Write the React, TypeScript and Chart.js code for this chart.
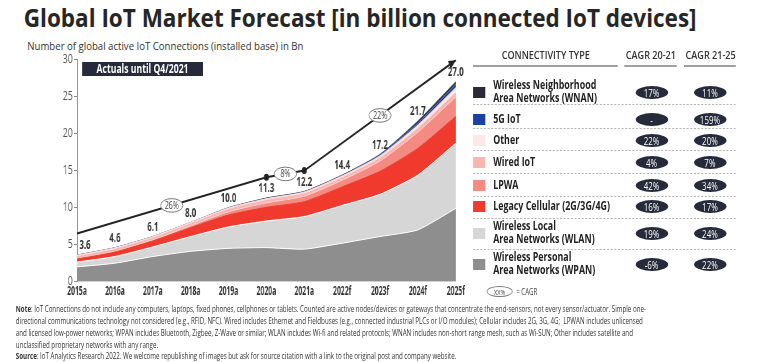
import React, { useEffect, useRef } from "react";
import { Chart, registerables } from "chart.js";
Chart.register(...registerables);

const FONT = "'Open Sans', 'DejaVu Sans', sans-serif";
const SX = 0.72; // horizontal squeeze of the reference picture

// ---- data ----
const years = ["2015a", "2016a", "2017a", "2018a", "2019a", "2020a", "2021a", "2022f", "2023f", "2024f", "2025f"];
const totals = [3.6, 4.6, 6.1, 8.0, 10.0, 11.3, 12.2, 14.4, 17.2, 21.7, 27.0];
const wpan = [2.0, 2.5, 3.4, 4.1, 4.5, 4.6, 4.4, 5.2, 6.1, 7.0, 9.9];
const wlan = [0.65, 0.9, 1.3, 2.0, 2.9, 3.6, 4.4, 5.1, 5.7, 7.4, 8.8];
const legacyCellular = [0.4, 0.6, 0.8, 1.2, 1.6, 1.85, 2.0, 2.5, 3.1, 3.6, 3.6];
const lpwa = [0.05, 0.1, 0.15, 0.25, 0.45, 0.6, 0.75, 0.9, 1.4, 2.2, 2.65];
const wiredIoT = [0.4, 0.4, 0.38, 0.38, 0.42, 0.45, 0.45, 0.45, 0.5, 0.6, 0.65];
const otherConn = [0.07, 0.07, 0.05, 0.05, 0.08, 0.1, 0.11, 0.13, 0.18, 0.35, 0.6];
const fiveG = [0, 0, 0, 0, 0, 0, 0.01, 0.04, 0.12, 0.25, 0.45];
const wnan = [0.03, 0.03, 0.02, 0.02, 0.05, 0.1, 0.08, 0.08, 0.1, 0.3, 0.35];
const trend = [6.5, null, null, null, null, 14.1, 15.0, null, null, null, 29.9];
const cagrMarks: [number, number, string][] = [[0, 5, "26%"], [5, 6, "8%"], [6, 10, "22%"]];
const yTicks = [0, 5, 10, 15, 20, 25, 30];

const legendNames = [
  ["Wireless Neighborhood", "Area Networks (WNAN)"],
  ["5G IoT"],
  ["Other"],
  ["Wired IoT"],
  ["LPWA"],
  ["Legacy Cellular (2G/3G/4G)"],
  ["Wireless Local", "Area Networks (WLAN)"],
  ["Wireless Personal", "Area Networks (WPAN)"],
];
const cagr2021 = ["17%", "-", "22%", "4%", "42%", "16%", "19%", "-6%"];
const cagr2125 = ["11%", "159%", "20%", "7%", "34%", "17%", "24%", "22%"];
const legendColors = ["#2b2b38", "#1c3fa3", "#fbe8e8", "#f9b6b1", "#f48b82", "#ef3a2d", "#d6d6d6", "#8e8e8e"];

const noteLines = [
  ["Note", ": IoT Connections do not include any computers, laptops, fixed phones, cellphones or tablets. Counted are active nodes/devices or gateways that concentrate the end-sensors, not every sensor/actuator. Simple one-"],
  ["", "directional communications technology not considered (e.g., RFID, NFC). Wired includes Ethernet and Fieldbuses (e.g., connected industrial PLCs or I/O modules); Cellular includes 2G, 3G, 4G;  LPWAN includes unlicensed"],
  ["", "and licensed low-power networks; WPAN includes Bluetooth, Zigbee, Z-Wave or similar; WLAN includes Wi-fi and related protocols; WNAN includes non-short range mesh, such as Wi-SUN; Other includes satellite and"],
  ["", "unclassified proprietary networks with any range."],
  ["Source", ": IoT Analytics Research 2022. We welcome republishing of images but ask for source citation with a link to the original post and company website."],
];

// layout (design px)
const rowCenters = [92, 119, 140.5, 162.5, 185, 206.5, 233, 264];
const dashYs = [103.5, 127.5, 149.5, 172.5, 195.5, 218, 249];

const overlayPlugin = {
  id: "overlay",
  afterDatasetsDraw(chart: any) {
    const ctx = chart.ctx;
    const xs = chart.scales.x;
    const ys = chart.scales.y;
    ctx.save();
    ctx.textAlign = "center";
    ctx.textBaseline = "middle";
    // x category labels (narrow)
    ctx.font = `bold 11.5px ${FONT}`;
    ctx.fillStyle = "#333";
    years.forEach((lab, i) => {
      const px = xs.getPixelForValue(i);
      ctx.save();
      ctx.translate(px, ys.bottom + 10.5);
      ctx.scale(0.82, 1);
      ctx.fillText(lab, 0, 0);
      ctx.restore();
    });
    // value labels
    totals.forEach((v, i) => {
      let px = xs.getPixelForValue(i);
      if (i === 0) px += 11;
      ctx.save();
      ctx.translate(px, ys.getPixelForValue(v) - 9);
      ctx.scale(0.95, 1);
      ctx.fillText(v.toFixed(1), 0, 0);
      ctx.restore();
    });
    // arrow head
    const meta = chart.getDatasetMeta(8);
    const last = meta.data[10];
    const prev = meta.data[6];
    const ang = Math.atan2(last.y - prev.y, last.x - prev.x);
    const L = 10, W = 4.5;
    ctx.fillStyle = "#222";
    ctx.beginPath();
    ctx.moveTo(last.x, last.y);
    ctx.lineTo(last.x - L * Math.cos(ang) + W * Math.sin(ang), last.y - L * Math.sin(ang) - W * Math.cos(ang));
    ctx.lineTo(last.x - L * Math.cos(ang) - W * Math.sin(ang), last.y - L * Math.sin(ang) + W * Math.cos(ang));
    ctx.closePath();
    ctx.fill();
    // CAGR ellipses
    cagrMarks.forEach(([a, b, t]) => {
      const pa = meta.data[a];
      const pb = meta.data[b];
      const mx = (pa.x + pb.x) / 2;
      const my = (pa.y + pb.y) / 2;
      ctx.beginPath();
      ctx.ellipse(mx, my, 15.5, 6.8, 0, 0, Math.PI * 2);
      ctx.fillStyle = "#fff";
      ctx.fill();
      ctx.lineWidth = 1;
      ctx.strokeStyle = "#777";
      ctx.stroke();
      ctx.fillStyle = "#444";
      ctx.font = `10px ${FONT}`;
      ctx.fillText(t, mx, my + 0.5);
    });
    ctx.restore();
  },
};

function ChartCanvas() {
  const ref = useRef<HTMLCanvasElement | null>(null);
  useEffect(() => {
    if (!ref.current) return;
    const series = [
      { label: "WPAN", data: wpan, color: "#8e8e8e", border: "#ffffff" },
      { label: "WLAN", data: wlan, color: "#d6d6d6", border: "#ffffff" },
      { label: "Legacy Cellular", data: legacyCellular, color: "#ef3a2d", border: "#ef3a2d" },
      { label: "LPWA", data: lpwa, color: "#f48b82", border: "#fbd0cc" },
      { label: "Wired IoT", data: wiredIoT, color: "#f9b6b1", border: "#fde0de" },
      { label: "Other", data: otherConn, color: "#fbe8e8", border: "#f4d8d8" },
      { label: "5G IoT", data: fiveG, color: "#1c3fa3", border: "#5a74c0" },
      { label: "WNAN", data: wnan, color: "#2b2b38", border: "#55556a" },
    ];
    const datasets: any[] = series.map((s, i) => ({
      label: s.label,
      data: s.data,
      backgroundColor: s.color,
      borderColor: s.border,
      borderWidth: 1,
      fill: i === 0 ? "origin" : "-1",
      pointRadius: 0,
      tension: 0.2,
      yAxisID: "y",
    }));
    datasets.push({
      label: "trend",
      data: trend,
      borderColor: "#222",
      backgroundColor: "#222",
      borderWidth: 2,
      fill: false,
      spanGaps: true,
      tension: 0,
      pointRadius: [0, 0, 0, 0, 0, 2.5, 2.5, 0, 0, 0, 0],
      yAxisID: "y2",
    });
    const chart = new Chart(ref.current, {
      type: "line",
      data: { labels: years, datasets },
      plugins: [overlayPlugin],
      options: {
        animation: false,
        responsive: true,
        maintainAspectRatio: false,
        layout: { padding: { left: 0, right: 27, top: 9.5, bottom: 0 } },
        plugins: { legend: { display: false }, tooltip: { enabled: false } },
        scales: {
          x: {
            type: "category",
            offset: false,
            grid: { display: false, drawTicks: false },
            border: { display: false },
            ticks: { display: false },
            afterFit: (s: any) => { s.height = 28.3; },
          },
          y: {
            stacked: true,
            min: 0,
            max: 30,
            afterBuildTicks: (s: any) => { s.ticks = yTicks.map((v) => ({ value: v })); },
            ticks: { color: "#555", font: { family: FONT, size: 12 }, padding: 2 },
            grid: { drawOnChartArea: false, color: "#888", tickLength: 4 },
            border: { color: "#888", width: 1 },
            afterFit: (s: any) => { s.width = 107; },
          },
          y2: { display: false, min: 0, max: 30 },
        },
      } as any,
    });
    return () => chart.destroy();
  }, []);
  return <canvas ref={ref} />;
}

const abs = (o: any): React.CSSProperties => ({ position: "absolute", ...o });
const headStyle = (left: number, width: number): React.CSSProperties =>
  abs({ left, top: 48, width, textAlign: "center", fontSize: 10.5, fontWeight: 600, lineHeight: "14px", color: "#333", whiteSpace: "nowrap", transform: "scaleX(1.2)", transformOrigin: "50% 50%" });
const pillStyle = (left: number, c: number): React.CSSProperties =>
  abs({ left, top: c - 6.5, width: 45, height: 13, borderRadius: "50%", background: "#262a3b", color: "#fff", fontSize: 11, lineHeight: "13px", textAlign: "center" });

export default function App() {
  return (
    <div
      style={{
        position: "absolute",
        left: 0,
        top: 0,
        width: 768 / SX,
        height: 362,
        overflow: "hidden",
        background: "#fff",
        transform: `scaleX(${SX})`,
        transformOrigin: "0 0",
        fontFamily: FONT,
        color: "#2a2a2a",
      }}
    >
      <div style={abs({ left: 33, top: 4, fontSize: 25, fontWeight: 700, lineHeight: "26px", whiteSpace: "nowrap", color: "#262626", transform: "scaleX(1.25)", transformOrigin: "0 0" })}>
        Global IoT Market Forecast [in billion connected IoT devices]
      </div>
      <div style={abs({ left: 37.5, top: 39.5, fontSize: 10.5, lineHeight: "12px", whiteSpace: "nowrap", color: "#333", transform: "scaleX(1.27)", transformOrigin: "0 0" })}>
        Number of global active IoT Connections (installed base) in Bn
      </div>
      <div style={abs({ left: 0, top: 50, width: 660, height: 260 })}>
        <ChartCanvas />
      </div>
      <div style={abs({ left: 114, top: 62, width: 168, height: 14, background: "#262a3b", color: "#fff", fontWeight: 700, fontSize: 12, lineHeight: "14px", textAlign: "center", whiteSpace: "nowrap" })}>
        Actuals until Q4/2021
      </div>

      {/* legend table */}
      <div style={headStyle(658, 200)}>CONNECTIVITY TYPE</div>
      <div style={headStyle(864, 80)}>CAGR 20-21</div>
      <div style={headStyle(947, 80)}>CAGR 21-25</div>
      <div style={abs({ left: 657, top: 65, width: 201, height: 2, background: "#a0a0a0" })} />
      <div style={abs({ left: 867, top: 65, width: 73, height: 2, background: "#a0a0a0" })} />
      <div style={abs({ left: 950, top: 65, width: 72, height: 2, background: "#a0a0a0" })} />

      {legendNames.map((lines, i) => {
        const c = rowCenters[i];
        return (
          <React.Fragment key={i}>
            <div style={abs({ left: 657, top: c - 5.5, width: 17, height: 11, background: legendColors[i] })} />
            <div style={abs({ left: 685, top: c - (lines.length * 12.6) / 2, fontSize: 11.5, fontWeight: 700, lineHeight: "12.6px", whiteSpace: "nowrap", color: "#222", transform: "scaleX(1.07)", transformOrigin: "0 0" })}>
              {lines.map((l, k) => (<div key={k}>{l}</div>))}
            </div>
            <div style={pillStyle(882.5, c)}>{cagr2021[i]}</div>
            <div style={pillStyle(963.5, c)}>{cagr2125[i]}</div>
          </React.Fragment>
        );
      })}
      {dashYs.map((y, i) => (
        <div key={i} style={abs({ left: 657, top: y, width: 365, height: 0, borderTop: "1px dashed #aaa" })} />
      ))}

      {/* CAGR key */}
      <div style={abs({ left: 676, top: 285.5, width: 36, height: 11, borderRadius: "50%", border: "1px solid #777", boxSizing: "border-box", fontSize: 8, lineHeight: "9px", textAlign: "center", color: "#444" })}>XX%</div>
      <div style={abs({ left: 717, top: 285.5, fontSize: 8.5, lineHeight: "11px", color: "#444", whiteSpace: "nowrap" })}>= CAGR</div>

      {/* notes */}
      {noteLines.map(([b, t], i) => (
        <div key={i} style={abs({ left: 22, top: 303 + i * 12 - (i === 4 ? 1 : 0), fontSize: 8.6, lineHeight: "12px", whiteSpace: "pre", color: "#333" })}>
          {b ? <b>{b}</b> : null}{t}
        </div>
      ))}
    </div>
  );
}
